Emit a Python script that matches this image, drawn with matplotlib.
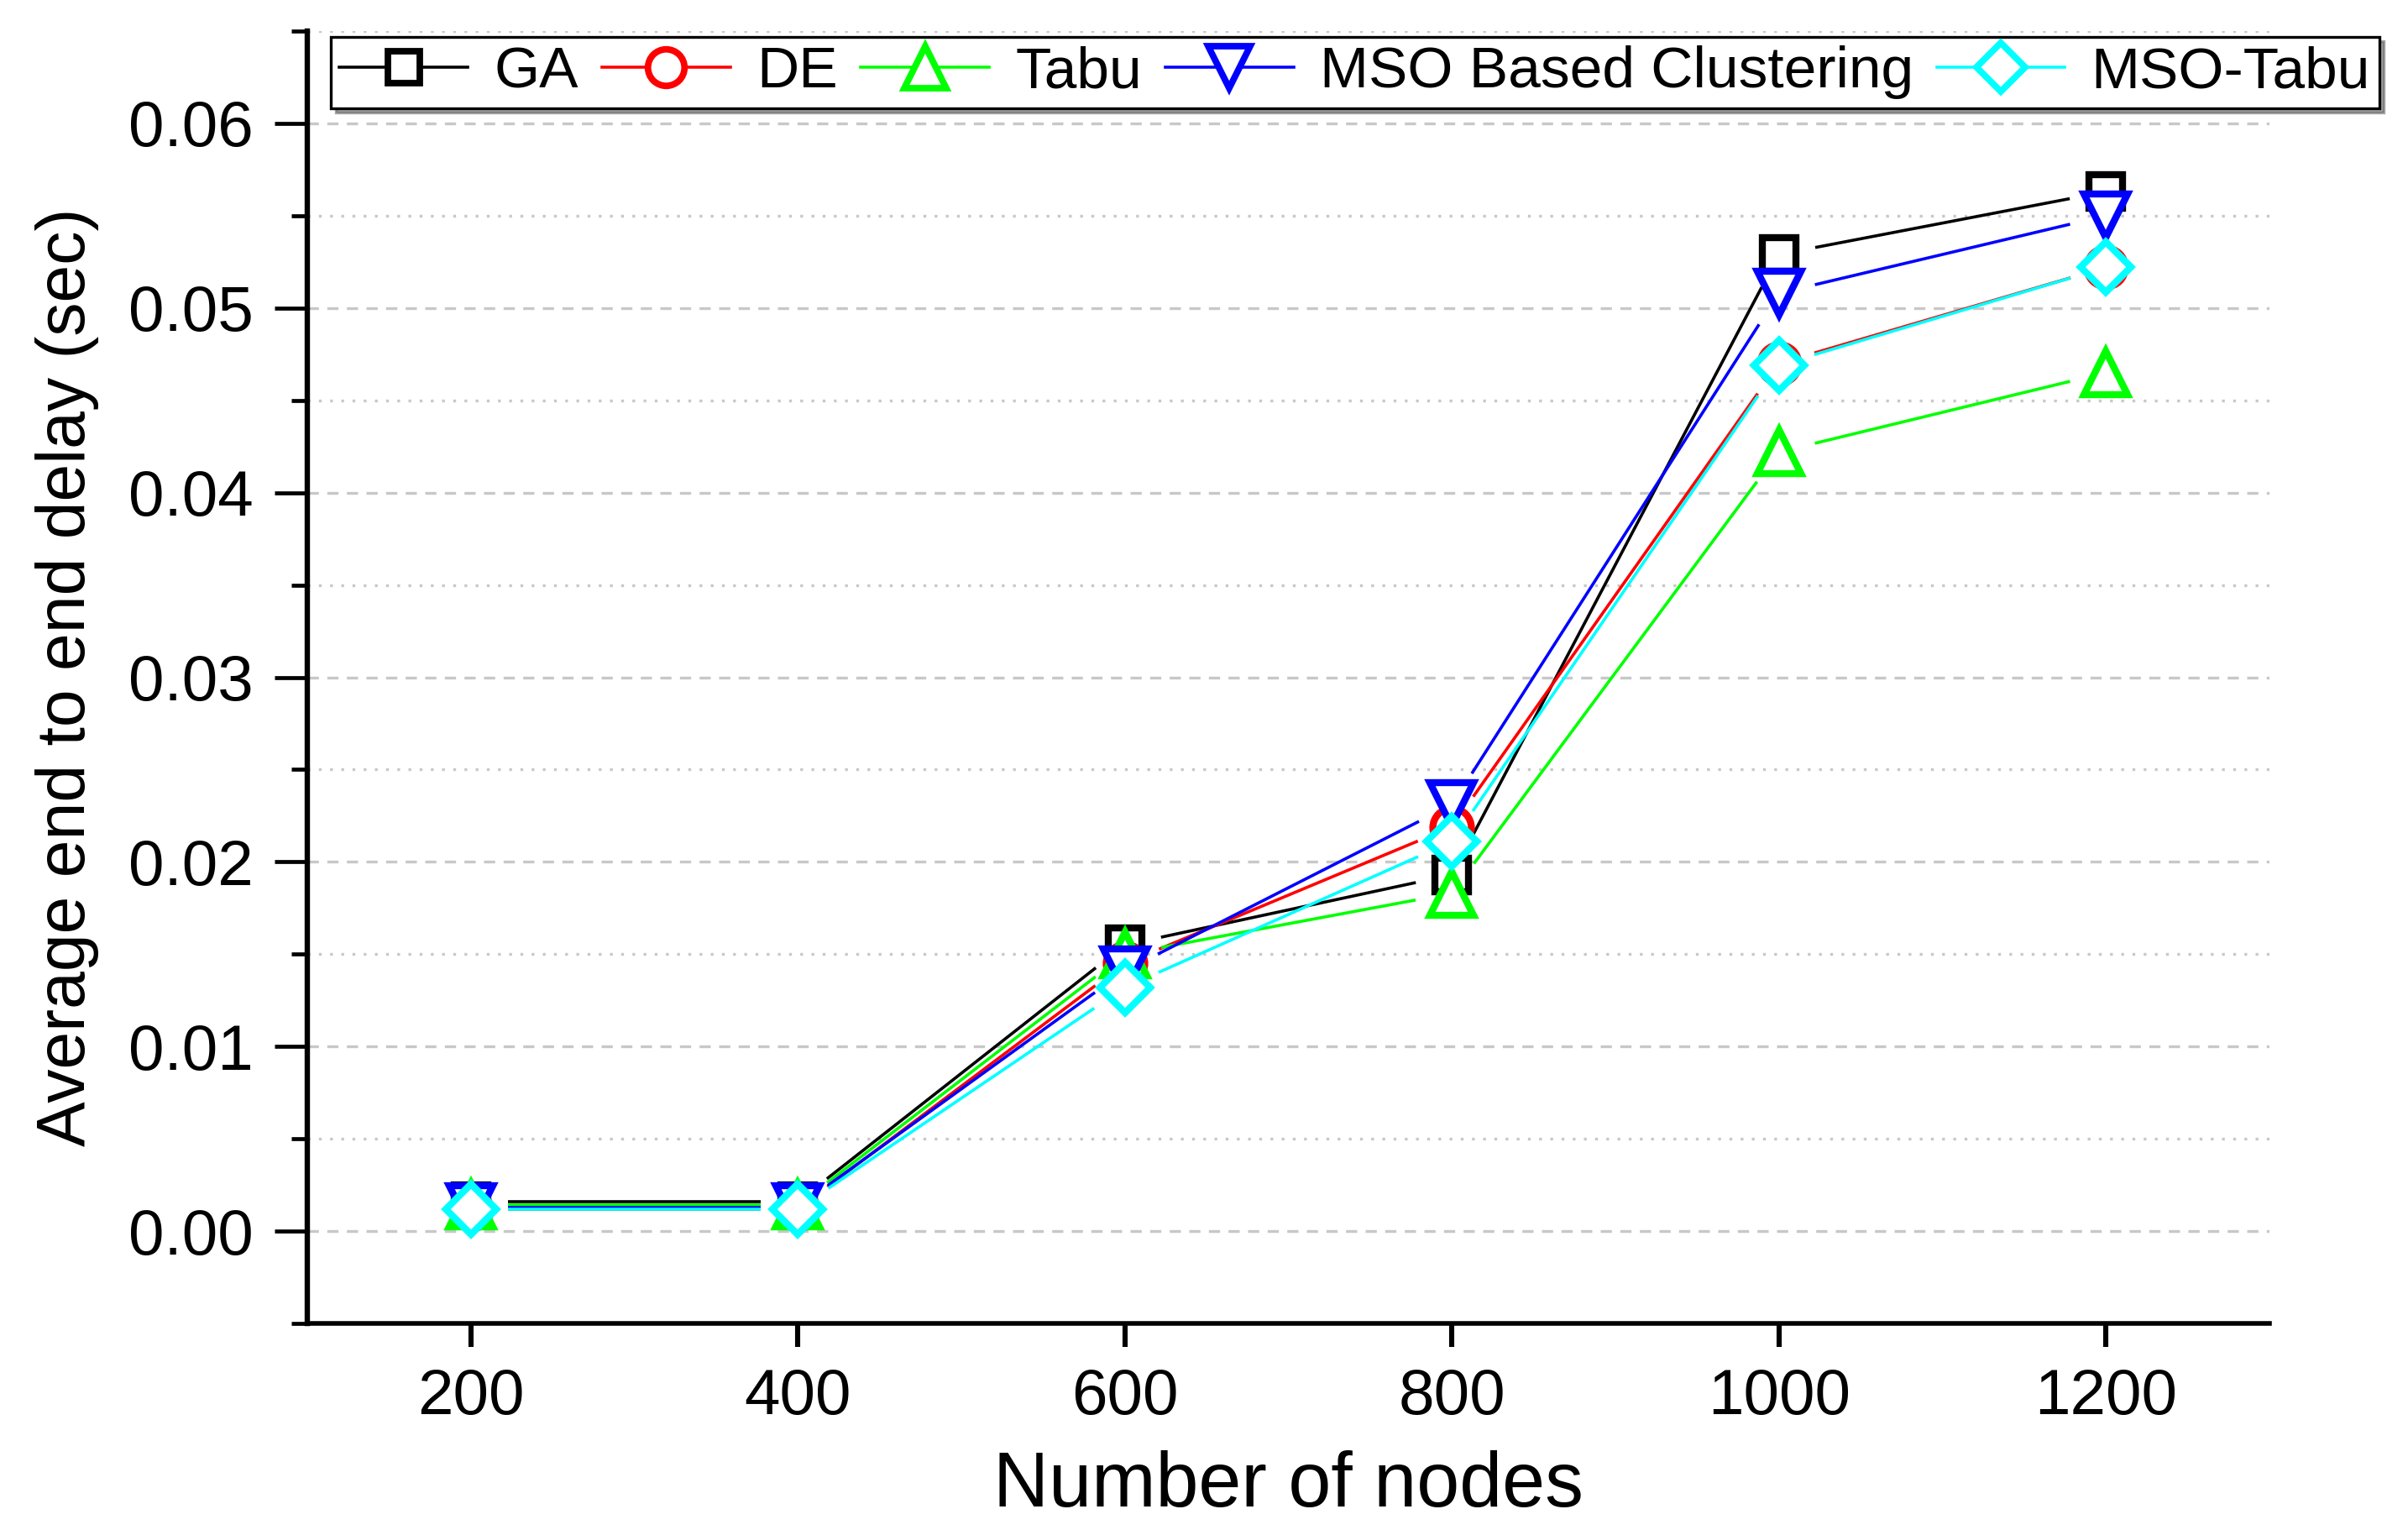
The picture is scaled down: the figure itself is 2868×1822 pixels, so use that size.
import matplotlib
matplotlib.use("Agg")
import matplotlib.pyplot as plt
import numpy as np
from matplotlib.lines import Line2D
from matplotlib.ticker import MultipleLocator, FormatStrFormatter

plt.rcParams['font.family'] = ['Liberation Sans', 'DejaVu Sans']

# data
nodes = [200, 400, 600, 800, 1000, 1200]
ga = [0.0016, 0.0016, 0.0155, 0.0193, 0.0529, 0.0563]
de = [0.0012, 0.0012, 0.0145, 0.0219, 0.0470, 0.0522]
tabu = [0.0014, 0.0014, 0.0150, 0.0183, 0.0422, 0.0465]
mso = [0.0013, 0.0013, 0.0141, 0.0231, 0.0508, 0.0550]
mso_tabu = [0.0012, 0.0012, 0.0132, 0.0211, 0.0469, 0.0522]

names = ['GA', 'DE', 'Tabu', 'MSO Based Clustering', 'MSO-Tabu']
series = [ga, de, tabu, mso, mso_tabu]
colors = ['black', 'red', '#00FF00', 'blue', 'cyan']
markers = ['s', 'o', '^', 'v', 'D']
sizes = [14.5, 16.5, 19, 19, 15.5]

DPI = 200
fig = plt.figure(figsize=(2868 / DPI, 1822 / DPI), dpi=DPI)
ax = fig.add_axes([0.1276, 0.135, 0.9425 - 0.1276, 0.9797 - 0.135])

ax.set_xlim(100, 1300)
ax.set_ylim(-0.005, 0.065)

# gap (pixels) between the line ends and the marker centres, Origin style
gap = 44
trans = ax.transData
inv = trans.inverted()

for i, (name, vals) in enumerate(zip(names, series)):
    pts = trans.transform(np.column_stack([nodes, vals]))
    for k in range(len(pts) - 1):
        p0, p1 = pts[k], pts[k + 1]
        d = p1 - p0
        L = np.hypot(d[0], d[1])
        if L <= 2 * gap:
            continue
        u = d / L
        seg = inv.transform(np.array([p0 + u * gap, p1 - u * gap]))
        ax.plot(seg[:, 0], seg[:, 1], color=colors[i], lw=1.3, zorder=2 + i * 0.1,
                solid_capstyle='butt')
    ax.plot(nodes, vals, linestyle='none', marker=markers[i], ms=sizes[i],
            mfc='white', mec=colors[i], mew=3.0, zorder=3 + i * 0.1)

# axes styling
for side in ['top', 'right']:
    ax.spines[side].set_visible(False)
ax.spines['left'].set_linewidth(2.3)
ax.spines['bottom'].set_linewidth(2.0)

ax.set_xticks(nodes)
ax.yaxis.set_major_locator(MultipleLocator(0.01))
ax.yaxis.set_minor_locator(MultipleLocator(0.005))
ax.yaxis.set_major_formatter(FormatStrFormatter('%.2f'))
ax.tick_params(axis='y', which='major', direction='out', length=14, width=1.7,
               labelsize=27.5, pad=9)
ax.tick_params(axis='y', which='minor', direction='out', length=7, width=1.7)
ax.tick_params(axis='x', which='major', direction='out', length=10, width=2.2,
               labelsize=27.5, pad=9)
ax.tick_params(axis='x', which='minor', bottom=False)

ax.grid(axis='y', which='major', color='#C8C8C8', linestyle=(0, (4, 3)), lw=1.2)
ax.grid(axis='y', which='minor', color='#C8C8C8', linestyle=(0, (1, 3)), lw=1.2)
ax.set_axisbelow(True)

ax.set_xlabel('Number of nodes', fontsize=33)
ax.set_ylabel('Average end to end delay (sec)', fontsize=29)
ax.xaxis.set_label_coords(0.5, -0.098)
ax.yaxis.set_label_coords(-0.106, 0.5)

handles = [Line2D([], [], color=c, marker=m, ms=s * 0.95, mfc='white', mec=c,
                  mew=2.8, lw=1.3)
           for c, m, s in zip(colors, markers, sizes)]
leg = fig.legend(handles, names, ncol=5, loc='upper left',
                 bbox_to_anchor=(0.1374, 0.9759), fontsize=25, frameon=True,
                 fancybox=False, shadow=True, edgecolor='black',
                 handlelength=2.2, handletextpad=0.45, columnspacing=0.4,
                 borderpad=0.15, borderaxespad=0)
leg.get_frame().set_linewidth(1.2)

fig.savefig('out.png', dpi=DPI)
